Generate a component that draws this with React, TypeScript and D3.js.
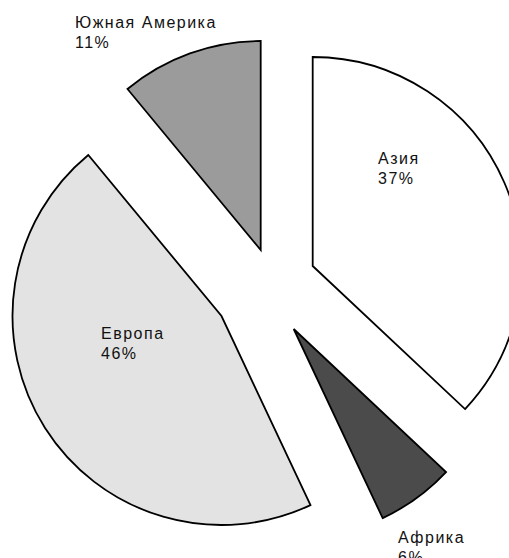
import React from "react";
import * as d3 from "d3";

// data
const regions = ["Азия", "Африка", "Европа", "Южная Америка"];
const shares = [37, 6, 46, 11];

// layout
const width = 509;
const height = 558;
const center = { x: 265, y: 287 };
const radius = 209;
// each slice is pulled out by its own vector
const explode: [number, number][] = [
  [47.7, -21],
  [28.7, 42],
  [-43.5, 29],
  [-4.3, -37],
];
const labelPos: [number, number][] = [
  [378, 164],
  [398, 543],
  [101, 339],
  [75, 28],
];
const fills = ["#ffffff", "#4b4b4b", "#e3e3e3", "#9b9b9b"];

export default function App() {
  const pie = d3
    .pie<number>()
    .sort(null)
    .value((d) => d)
    .startAngle(0)
    .endAngle(2 * Math.PI);
  const arcs = pie(shares);
  const arc = d3.arc<d3.PieArcDatum<number>>().innerRadius(0).outerRadius(radius);

  return (
    <svg
      width={width}
      height={height}
      style={{ position: "absolute", left: 0, top: 0, background: "#fff" }}
    >
      {arcs.map((a, i) => (
        <path
          key={regions[i]}
          d={arc(a) || ""}
          transform={`translate(${center.x + explode[i][0]},${center.y + explode[i][1]})`}
          fill={fills[i]}
          stroke="#000"
          strokeWidth={1.8}
          strokeLinejoin="miter"
        />
      ))}
      {regions.map((r, i) => (
        <text
          key={r}
          x={labelPos[i][0]}
          y={labelPos[i][1]}
          fontFamily="'Liberation Sans', Arial, Helvetica, sans-serif"
          fontSize={16}
          letterSpacing={1.5}
          fill="#111"
        >
          <tspan x={labelPos[i][0]}>{r}</tspan>
          <tspan x={labelPos[i][0]} dy={19.5}>
            {shares[i]}%
          </tspan>
        </text>
      ))}
    </svg>
  );
}
